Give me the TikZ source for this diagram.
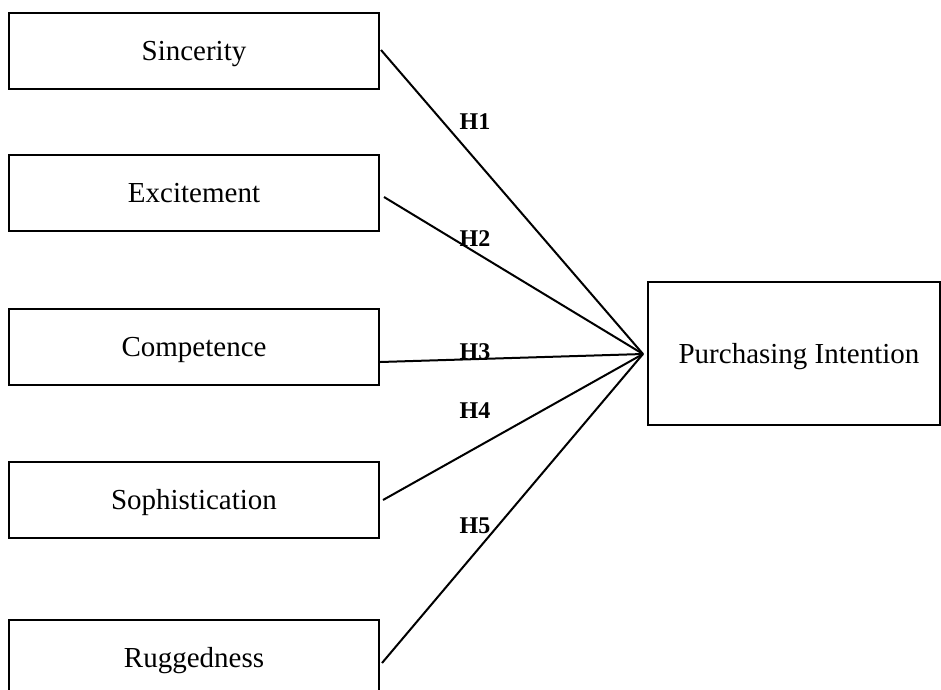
\documentclass[tikz,border=0pt]{standalone}
\usepackage{fontspec}
\setmainfont{Liberation Serif}
\begin{document}
\begin{tikzpicture}[x=1pt,y=-1pt,
  box/.style={draw, line width=2.6pt, minimum width=370pt, minimum height=76pt, outer sep=0pt, inner sep=0pt, text height=19pt, text depth=0pt, font=\fontsize{29}{34}\selectfont},
  hyp/.style={font=\fontsize{24}{28}\selectfont\bfseries, inner sep=0pt},
  link/.style={line width=2pt}]
\useasboundingbox (0,0) rectangle (941,689);
\begin{scope}
\clip (0,0) rectangle (941,689);
\node[box] (sin) at (194,51) {Sincerity};
\node[box] (exc) at (194,193) {Excitement};
\node[box] (com) at (194,347) {Competence};
\node[box] (sop) at (194,500) {Sophistication};
\node[box] (rug) at (194,658) {Ruggedness};
\node[box, minimum width=292pt, minimum height=143pt] (pi) at (794,353.5) {\hspace*{10pt}Purchasing Intention};
\coordinate (hub) at (643,354);
\draw[link] ([shift={(2,-1)}]sin.east) -- (hub);
\draw[link] ([shift={(5,4)}]exc.east) -- (hub);
\draw[link] ([shift={(1,15)}]com.east) -- (hub);
\draw[link] ([shift={(4,0)}]sop.east) -- (hub);
\draw[link] ([shift={(3,5)}]rug.east) -- (hub);
\node[hyp] (h1) at (475,122) {H1};
\node[hyp] (h2) at (475,239) {H2};
\node[hyp] (h3) at (475,352) {H3};
\node[hyp] (h4) at (475,411) {H4};
\node[hyp] (h5) at (475,526) {H5};
\end{scope}
\end{tikzpicture}
\end{document}
